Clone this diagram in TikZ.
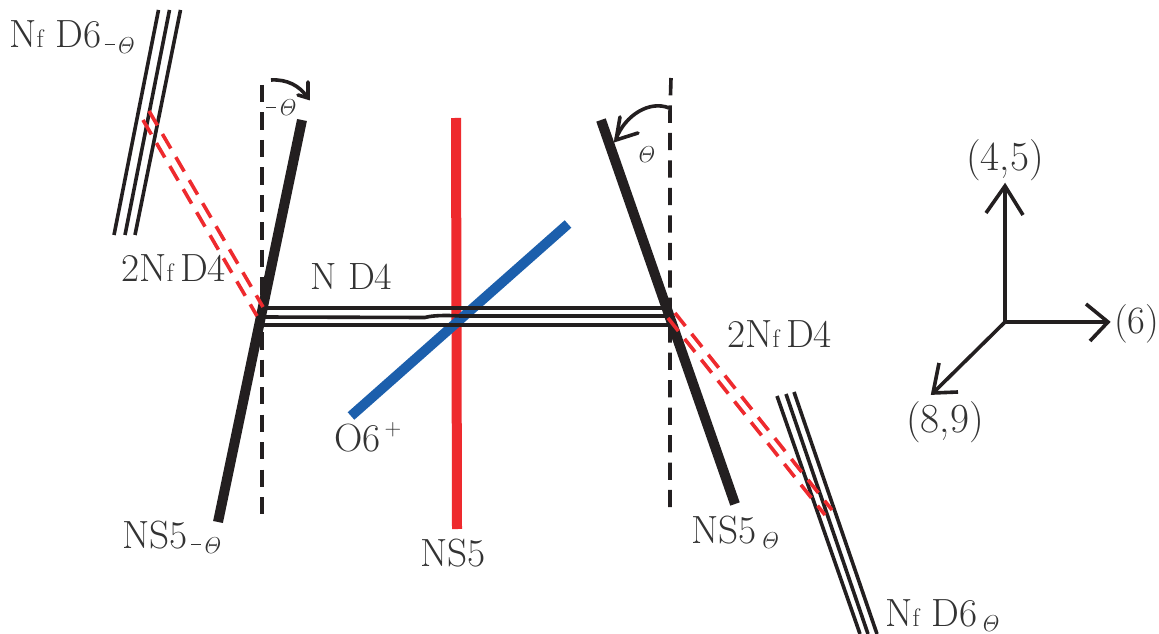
\documentclass[tikz,border=0pt]{standalone}
\usepackage{xcolor}
\definecolor{ink}{HTML}{231F20}
\definecolor{txt}{HTML}{333333}
\definecolor{redb}{HTML}{EE2A2E}
\definecolor{blueb}{HTML}{1C5FAC}
\newcommand{\bigtxt}{\fontsize{29.5}{31}\selectfont}
\newcommand{\coordtxt}{\fontsize{31}{33}\selectfont}
\newcommand{\smalltxt}{\fontsize{19}{20}\selectfont}
\newcommand{\thfont}{\fontsize{19}{20}\selectfont}
\newcommand{\minusbar}{\rule[5.8pt]{7.5pt}{0.7pt}\hspace{1pt}}
\newcommand{\thsub}{\hspace{2.5pt}\raisebox{-3.8pt}{\thfont$\mathit{\Theta}$}}
\newcommand{\mthsub}{\hspace{2.5pt}\raisebox{-3.8pt}{\thfont\minusbar$\mathit{\Theta}$}}
\tikzset{
  x=0.75pt,y=-0.75pt,
  brane/.style={draw=ink,line width=7.5pt},
  coloredbrane/.style={line width=7.5pt},
  thin line/.style={draw=ink,line width=2.7pt},
  guide/.style={draw=ink,line width=2.7pt,dash pattern=on 13pt off 7.6pt},
  redline/.style={draw=redb,line width=2.7pt,dash pattern=on 12.5pt off 7.5pt},
  axis/.style={draw=ink,line width=2.7pt},
  lbl/.style={inner sep=0pt,text=txt,anchor=base west,font=\bigtxt},
}
\begin{document}
\begin{tikzpicture}
\useasboundingbox (0,0) rectangle (1159,634);
% guides
\coordinate (gl1) at (262,85); \coordinate (gl2) at (262,515);
\coordinate (gr0) at (671,78); \coordinate (gr1) at (670,112); \coordinate (gr2) at (670,507);
\draw[guide] (gl1) -- (gl2);
\draw[guide] (gr0) -- (gr1) -- (gr2);
% D6 left
\foreach \a/\b/\c/\d in {158.5/10/114/235,169.5/10/125/235,180.5/10/135/235}
  \draw[thin line] (\a,\b) -- (\c,\d);
% D6 right
\foreach \a/\b/\c/\d in {777/396/860/634,786/394/868/634,794/392/877/634}
  \draw[thin line] (\a,\b) -- (\c,\d);
% coloured branes
\coordinate (redT) at (456,118); \coordinate (redB) at (457,529);
\coordinate (blueT) at (568,224); \coordinate (blueB) at (351,416);
\draw[coloredbrane,draw=redb] (redT) -- (redB);
\draw[coloredbrane,draw=blueb] (blueT) -- (blueB);
% D4
\coordinate (d4la) at (262,308); \coordinate (d4ra) at (668,308);
\coordinate (d4lb) at (262,317); \coordinate (d4rb) at (668,316);
\coordinate (d4lc) at (262,325); \coordinate (d4rc) at (668,325);
\draw[thin line] (d4la) -- (d4ra);
\draw[thin line] (d4lb) -- (425,317.5) .. controls (432,315.5) and (445,315) .. (460,316) -- (d4rb);
\draw[thin line] (d4lc) -- (d4rc);
% NS5
\coordinate (nlT) at (302,120); \coordinate (nlB) at (218,522);
\coordinate (nrT) at (601,120); \coordinate (nrB) at (735,504);
\draw[brane] (nlT) -- (nlB);
\draw[brane] (nrT) -- (nrB);
% red double lines
\draw[redline] (149,111) -- (263,307);
\draw[redline] (143,120) -- (257,316);
\draw[redline] (675,313) -- (832,510);
\draw[redline] (668,318) -- (825,515);
% arcs
\draw[draw=ink,line width=2.7pt] (271,80) .. controls (287,79) and (300,86) .. (307,97);
\draw[draw=ink,line width=2.7pt,line cap=round] (308,82) -- (308,98) -- (298,95);
\draw[draw=ink,line width=2.7pt] (669,108) .. controls (650,100) and (625,115) .. (616,139);
\draw[draw=ink,line width=2.7pt,line cap=round] (620,117) -- (616,140) -- (638,133);
% axes
\coordinate (o) at (1005,322);
\coordinate (ax1) at (1005,186); \coordinate (ax2) at (1108,322); \coordinate (ax3) at (933,393);
\draw[axis] (o) -- (ax1);
\draw[axis] (o) -- (ax2);
\draw[axis] (o) -- (ax3);
\draw[axis] (986,213) -- (ax1) -- (1023,215);
\draw[axis] (1086,304) -- (ax2) -- (1090,341);
\draw[axis] (939,363) -- (ax3) -- (958,392);
% labels
\node[lbl] (a) at (9,48) {N{\smalltxt f} D6\mthsub};
\node[lbl] (b) at (121,282) {2N{\smalltxt f}\,D4};
\node[lbl,font=\fontsize{28.5}{30}\selectfont] (c) at (310,290) {N D4};
\node[lbl] (d) at (727,348) {2N{\smalltxt f}\,D4};
\node[lbl] (e) at (885,626) {N{\smalltxt f} D6\thsub};
\node[lbl] (f) at (122,548) {NS5\mthsub};
\node[lbl] (g) at (420,566) {NS5};
\node[lbl] (h) at (691,543) {NS5\thsub};
\node[lbl] (i) at (334,451) {O6\hspace{3pt}\raisebox{12pt}{\fontsize{17}{18}\selectfont$+$}};
\node[lbl,font=\coordtxt] (j) at (966,171) {(4,5)};
\node[lbl,font=\fontsize{29}{31}\selectfont] (k) at (1114,334) {(6)};
\node[lbl,font=\coordtxt] (l) at (906,432) {(8,9)};
\node[lbl,font=\thfont] (m) at (266,116) {\minusbar$\mathit{\Theta}$};
\node[lbl,font=\thfont] (n) at (636,163) {$\mathit{\Theta}$};
\end{tikzpicture}
\end{document}
